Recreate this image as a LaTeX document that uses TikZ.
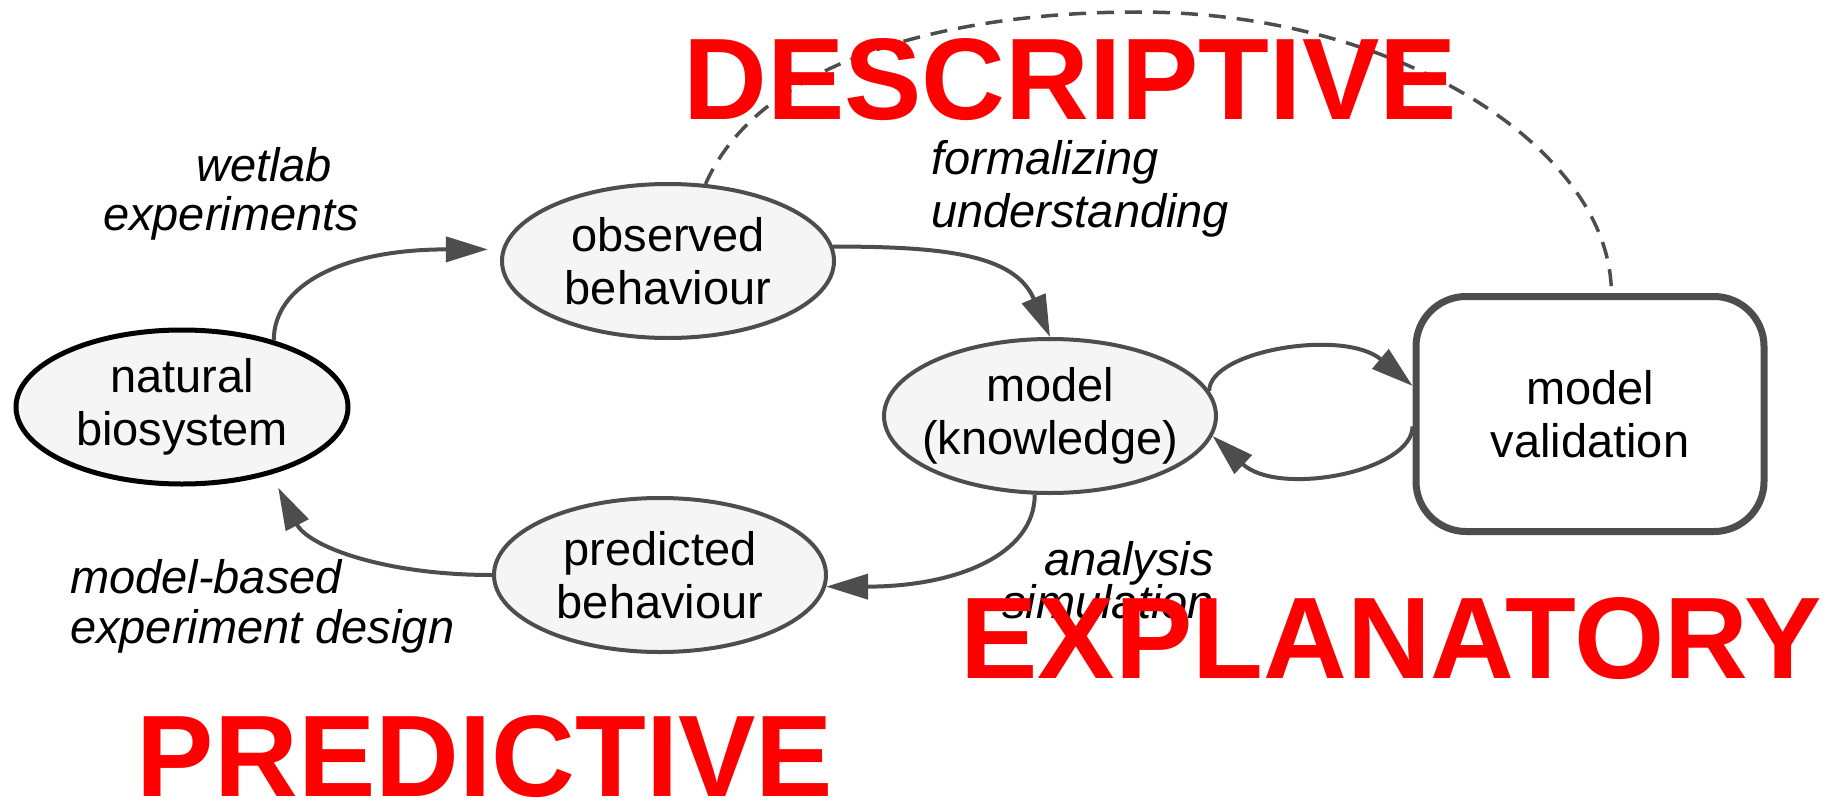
\documentclass[tikz,border=0pt]{standalone}
\usepackage{fontspec}
\setmainfont{Liberation Sans}
\usetikzlibrary{arrows.meta,shapes.geometric}

\definecolor{edge}{HTML}{4D4D4D}
\definecolor{nodefill}{HTML}{F5F5F5}
\definecolor{tagred}{HTML}{FF0000}

% two-line texts: left aligned / right aligned (baseline = first line), centred
\newcommand\twoL[2]{\vtop{\lineskiplimit=-100pt\hbox{#1}\hbox{#2}}}
\newcommand\twoR[2]{\vtop{\lineskiplimit=-100pt\halign{\hfil##\cr#1\cr#2\cr}}}
\newcommand\twoC[2]{\makebox[0pt]{\vbox{\lineskiplimit=-100pt\halign{\hfil##\hfil\cr#1\cr#2\cr}}}}

\tikzset{
  stage/.style={ellipse, draw=edge, line width=4pt, fill=nodefill, inner sep=0pt,
    minimum width=332pt, minimum height=154pt,
    font=\fontsize{47}{53}\selectfont},
  source/.style={stage, draw=black, line width=5pt},
  checkbox/.style={rectangle, rounded corners=50pt, draw=edge, line width=7pt,
    fill=white, inner sep=0pt, minimum width=348pt, minimum height=235pt,
    font=\fontsize{47}{53}\selectfont},
  flow/.style={draw=edge, line width=4pt, -{Triangle[length=42pt,width=25pt]}},
  link/.style={draw=edge, line width=3.5pt, dash pattern=on 17pt off 11pt},
  steplabel/.style={inner sep=0pt, font=\itshape\fontsize{47}{49}\selectfont},
  mode/.style={inner sep=0pt, text=tagred,
    font=\bfseries\fontsize{116}{116}\selectfont},
}

\begin{document}
\begin{tikzpicture}[x=1pt,y=1pt]
\path[use as bounding box, fill=white] (0,0) rectangle (1827,-800);

% stages of the modelling cycle
\node[source] (nat) at (182,-407) {\twoC{natural}{biosystem}};
\node[stage]  (obs) at (668,-261) {\twoC{observed}{behaviour}};
\node[stage]  (mod) at (1050,-416) {\twoC{model}{(knowledge)}};
\node[stage]  (pre) at (660,-575) {\twoC{predicted}{behaviour}};
\node[checkbox] (val) at (1590,-414) {\twoC{model}{validation}};

% cycle connectors
\draw[flow, shorten >=14pt] (nat.36) .. controls +(90:55) and +(180:160) .. (obs.176);
\draw[flow] (obs.5) .. controls +(0:110) and +(113:90) .. (mod.north);
\draw[flow] (mod.259) .. controls +(270:60) and +(0:130) .. (pre.356);
\draw[flow, shorten >=15pt] (pre.west) .. controls +(180:110) and +(297:80) .. (nat.323);
\draw[flow] (mod.9) .. controls +(90:40) and +(140:90) .. (val.171);
\draw[flow] (val.184) .. controls +(270:45) and +(317:90) .. (mod.353);

% validation feeds back to the observations
\draw[link] (obs.64) .. controls (760,-60) and (950,-12) .. (1138,-12)
  .. controls (1400,-12) and (1611,-150) .. (val.80);

% step labels
\node[steplabel, anchor=base west] (wet) at (103,-181)
  {\twoL{\hspace*{93pt}wetlab}{experiments}};
\node[steplabel, anchor=base west, font=\itshape\fontsize{47}{53}\selectfont]
  (formal) at (931,-174) {\twoL{formalizing}{understanding}};
\node[steplabel, anchor=base east, font=\itshape\fontsize{47}{43}\selectfont]
  (anal) at (1214,-575) {\twoR{analysis}{simulation}};
\node[steplabel, anchor=base west, font=\itshape\fontsize{47}{50}\selectfont]
  (mbed) at (70,-593) {\twoL{model-based}{experiment design}};

% modelling modes
\node[mode, anchor=base] (desc) at (1070,-119) {DESCRIPTIVE};
\node[mode, anchor=base] (expl) at (1391,-678) {EXPLANATORY};
\node[mode, anchor=base] (pred) at (485,-796) {PREDICTIVE};
\end{tikzpicture}
\end{document}
